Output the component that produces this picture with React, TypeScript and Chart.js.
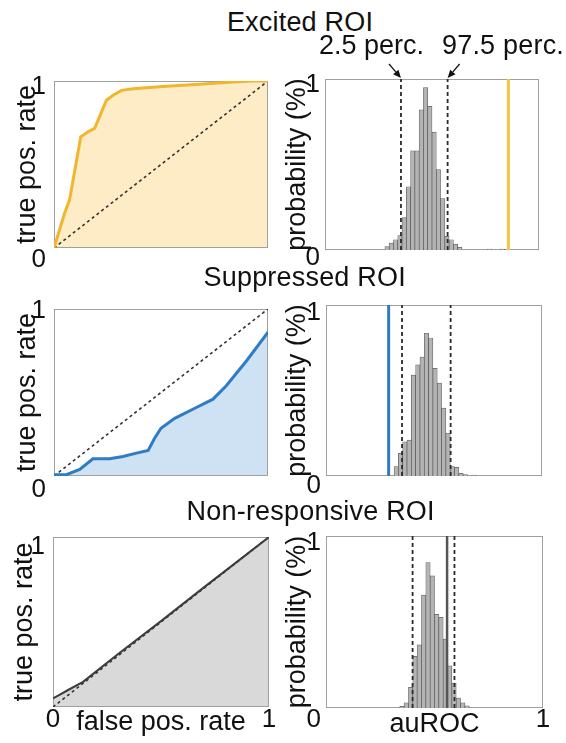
import React, { useEffect, useRef } from "react";
import { Chart, registerables } from "chart.js";

Chart.register(...registerables);

const FAMILY = "'Liberation Sans', Arial, Helvetica, sans-serif";
const INK = "#111111";
const FRAME = "#a0a0a0";

// ---------- ROC curves (false pos. rate -> true pos. rate) ----------
const excitedFpr = [0, 0.05, 0.073, 0.125, 0.159, 0.19, 0.245, 0.276, 0.315, 0.37, 0.525, 0.68, 0.836, 0.93, 1];
const excitedTpr = [0, 0.21, 0.29, 0.666, 0.696, 0.716, 0.885, 0.915, 0.944, 0.954, 0.968, 0.98, 0.994, 1.0, 1];
const suppressedFpr = [0, 0.058, 0.12, 0.182, 0.26, 0.322, 0.385, 0.44, 0.47, 0.5, 0.564, 0.665, 0.743, 0.805, 0.9, 1];
const suppressedTpr = [0.008, 0.008, 0.04, 0.103, 0.103, 0.117, 0.137, 0.153, 0.226, 0.286, 0.345, 0.41, 0.46, 0.54, 0.69, 0.861];
const nonRespFpr = [0, 0.03, 0.07, 0.139, 0.3, 0.5, 0.7, 0.85, 1];
const nonRespTpr = [0.05, 0.072, 0.1, 0.148, 0.31, 0.505, 0.705, 0.852, 1];
const chanceLine = [0, 1];

// ---------- auROC null distributions (bin centres -> probability) ----------
const excitedBins = [0.29, 0.31, 0.33, 0.35, 0.37, 0.39, 0.41, 0.43, 0.45, 0.47, 0.49, 0.51, 0.53, 0.55, 0.57, 0.59, 0.61, 0.63, 0.77, 0.83];
const excitedProb = [0.02, 0.04, 0.06, 0.085, 0.19, 0.37, 0.58, 0.58, 0.82, 0.95, 0.84, 0.69, 0.47, 0.3, 0.08, 0.06, 0.035, 0.015, 0.006, 0.006];
const excitedPerc = [0.355, 0.573];
const excitedAuroc = 0.857;

const suppressedBins = [0.325, 0.345, 0.365, 0.385, 0.405, 0.425, 0.445, 0.465, 0.485, 0.505, 0.525, 0.545, 0.565, 0.585, 0.605, 0.625, 0.645, 0.685];
const suppressedProb = [0.055, 0.133, 0.2, 0.21, 0.59, 0.65, 0.695, 0.835, 0.807, 0.63, 0.543, 0.397, 0.25, 0.055, 0.05, 0.016, 0.008, 0.006];
const suppressedPerc = [0.352, 0.577];
const suppressedAuroc = 0.29;

const nonRespBins = [0.35, 0.37, 0.39, 0.41, 0.43, 0.45, 0.47, 0.49, 0.51, 0.53, 0.55, 0.57, 0.59, 0.61, 0.63, 0.65];
const nonRespProb = [0.01, 0.03, 0.12, 0.3, 0.367, 0.656, 0.846, 0.768, 0.544, 0.527, 0.4, 0.245, 0.145, 0.058, 0.03, 0.013];
const nonRespPerc = [0.399, 0.592];
const nonRespAuroc = 0.558;

// ---------- layout ----------
type Rect = { left: number; top: number; width: number; height: number };
type Plot = { l: number; t: number; r: number; b: number };
type Spec = {
  canvas: Rect;
  plot: Plot;
  yTitle: string;
  yTitlePad: number;
  yTickPad: number;
  y1Offset: number;
  y0Offset: number | null;
  xTickLabels: Record<string, string> | null;
  xTickPad: number;
  xTitle: string | null;
  xTitlePad: number;
};

const framePlugin = {
  id: "frame",
  beforeDatasetsDraw(chart: any) {
    const { ctx, chartArea: a } = chart;
    ctx.save();
    ctx.strokeStyle = FRAME;
    ctx.lineWidth = 1;
    ctx.strokeRect(Math.round(a.left) + 0.5, Math.round(a.top) + 0.5, Math.round(a.right - a.left) - 1, Math.round(a.bottom - a.top) - 1);
    ctx.restore();
  },
};

const arrowPlugin = {
  id: "percArrows",
  afterDraw(chart: any) {
    const { ctx, chartArea } = chart;
    const xs = chart.scales.x;
    ctx.save();
    ctx.strokeStyle = INK;
    ctx.fillStyle = INK;
    ctx.lineWidth = 1.3;
    excitedPerc.forEach((p, i) => {
      const tipX = xs.getPixelForValue(p);
      const tipY = chartArea.top - 1;
      const dir = i === 0 ? -1 : 1;
      const tailX = tipX + dir * 12;
      const tailY = tipY - 14;
      const ang = Math.atan2(tipY - tailY, tipX - tailX);
      const hl = 8;
      const hw = 3.5;
      const bx = tipX - hl * Math.cos(ang);
      const by = tipY - hl * Math.sin(ang);
      ctx.beginPath();
      ctx.moveTo(tailX, tailY);
      ctx.lineTo(bx, by);
      ctx.stroke();
      ctx.beginPath();
      ctx.moveTo(tipX, tipY);
      ctx.lineTo(bx + hw * Math.sin(ang), by - hw * Math.cos(ang));
      ctx.lineTo(bx - hw * Math.sin(ang), by + hw * Math.cos(ang));
      ctx.closePath();
      ctx.fill();
    });
    ctx.restore();
  },
};

function buildOptions(s: Spec): any {
  const yW = s.plot.l - s.canvas.left;
  const xH = s.canvas.top + s.canvas.height - s.plot.b;
  const padTop = s.plot.t - s.canvas.top;
  const padRight = s.canvas.left + s.canvas.width - s.plot.r;
  const lh0 = s.y0Offset == null ? 26 : Math.max(2, 2 * (s.y0Offset - s.y1Offset));
  return {
    animation: false,
    responsive: false,
    maintainAspectRatio: false,
    layout: { padding: { top: padTop, right: padRight, left: 0, bottom: 0 } },
    plugins: {
      legend: { display: false },
      tooltip: { enabled: false },
      filler: { drawTime: "beforeDatasetsDraw" },
    },
    scales: {
      x: {
        type: "linear",
        min: 0,
        max: 1,
        offset: false,
        grid: { display: false, offset: false },
        border: { display: false },
        ticks: {
          display: !!s.xTickLabels,
          stepSize: 1,
          padding: s.xTickPad,
          color: INK,
          maxRotation: 0,
          autoSkip: false,
          font: { family: FAMILY, size: 26, lineHeight: 1 },
          callback: (v: number) => (s.xTickLabels && s.xTickLabels[String(v)]) || null,
        },
        title: {
          display: !!s.xTitle,
          text: s.xTitle || "",
          color: INK,
          font: { family: FAMILY, size: 27, lineHeight: 1 },
          padding: { top: 0, bottom: s.xTitlePad },
        },
        afterFit: (sc: any) => {
          sc.height = xH;
        },
      },
      y: {
        type: "linear",
        min: 0,
        max: 1,
        grid: { display: false },
        border: { display: false },
        ticks: {
          stepSize: 1,
          padding: s.yTickPad,
          labelOffset: s.y1Offset,
          color: INK,
          autoSkip: false,
          font: { family: FAMILY, size: 26, lineHeight: `${lh0}px` },
          callback: (v: number) => (v === 1 ? "1" : s.y0Offset == null ? null : ["", "0"]),
        },
        title: {
          display: true,
          text: s.yTitle,
          color: INK,
          font: { family: FAMILY, size: 27, lineHeight: 1 },
          padding: { top: s.yTitlePad, bottom: 0 },
        },
        afterFit: (sc: any) => {
          sc.width = yW;
        },
      },
    },
  };
}

function rocConfig(s: Spec, fpr: number[], tpr: number[], line: string, fill: string, width: number): any {
  return {
    type: "line",
    data: {
      datasets: [
        {
          data: fpr.map((x, i) => ({ x, y: tpr[i] })),
          borderColor: line,
          backgroundColor: fill,
          fill: "origin",
          borderWidth: width,
          pointRadius: 0,
          tension: 0,
          order: 0,
        },
        {
          data: chanceLine.map((v) => ({ x: v, y: v })),
          borderColor: "#333333",
          borderWidth: 1.6,
          borderDash: [3, 3],
          pointRadius: 0,
          fill: false,
          order: 1,
        },
      ],
    },
    options: buildOptions(s),
    plugins: [framePlugin],
  };
}

function histConfig(
  s: Spec,
  bins: number[],
  prob: number[],
  perc: number[],
  auroc: number,
  aurocColor: string,
  aurocWidth: number,
  extra: any[] = []
): any {
  const vline = (v: number) => [
    { x: v, y: 0 },
    { x: v, y: 1 },
  ];
  return {
    type: "bar",
    data: {
      datasets: [
        {
          type: "bar",
          data: bins.map((x, i) => ({ x, y: prob[i] })),
          backgroundColor: "#b4b4b4",
          borderColor: "rgba(70,70,70,0.85)",
          borderWidth: 0.7,
          barPercentage: 1,
          categoryPercentage: 1,
          order: 3,
        },
        ...perc.map((p) => ({
          type: "line",
          data: vline(p),
          borderColor: "#2a2a2a",
          borderWidth: 1.8,
          borderDash: [4, 3],
          pointRadius: 0,
          fill: false,
          order: 1,
        })),
        {
          type: "line",
          data: vline(auroc),
          borderColor: aurocColor,
          borderWidth: aurocWidth,
          pointRadius: 0,
          fill: false,
          order: 0,
        },
      ],
    },
    options: buildOptions(s),
    plugins: [framePlugin, ...extra],
  };
}

const leftTitle = "true pos. rate";
const rightTitle = "probability (%)";

const specs: Record<string, Spec> = {
  roc1: {
    canvas: { left: 0, top: 55, width: 283, height: 215 },
    plot: { l: 54, t: 81, r: 268, b: 248 },
    yTitle: leftTitle, yTitlePad: 14, yTickPad: 0, y1Offset: 6, y0Offset: 12,
    xTickLabels: null, xTickPad: 0, xTitle: null, xTitlePad: 0,
  },
  hist1: {
    canvas: { left: 283, top: 55, width: 283, height: 215 },
    plot: { l: 325, t: 79, r: 539, b: 250 },
    yTitle: rightTitle, yTitlePad: 1.5, yTickPad: -3, y1Offset: 6, y0Offset: 7.5,
    xTickLabels: null, xTickPad: 0, xTitle: null, xTitlePad: 0,
  },
  roc2: {
    canvas: { left: 0, top: 285, width: 283, height: 215 },
    plot: { l: 54, t: 309, r: 268, b: 477 },
    yTitle: leftTitle, yTitlePad: 14, yTickPad: 0, y1Offset: 2, y0Offset: 14,
    xTickLabels: null, xTickPad: 0, xTitle: null, xTitlePad: 0,
  },
  hist2: {
    canvas: { left: 283, top: 285, width: 283, height: 215 },
    plot: { l: 326, t: 305, r: 542, b: 476 },
    yTitle: rightTitle, yTitlePad: 1.5, yTickPad: -3, y1Offset: 7.5, y0Offset: 9.5,
    xTickLabels: null, xTickPad: 0, xTitle: null, xTitlePad: 0,
  },
  roc3: {
    canvas: { left: 0, top: 515, width: 283, height: 228 },
    plot: { l: 53, t: 537, r: 269, b: 707 },
    yTitle: leftTitle, yTitlePad: 11.5, yTickPad: 0, y1Offset: 10, y0Offset: null,
    xTickLabels: { "0": "0", "1": "1" }, xTickPad: -8, xTitle: "false pos. rate", xTitlePad: 7,
  },
  hist3: {
    canvas: { left: 283, top: 515, width: 283, height: 228 },
    plot: { l: 326, t: 536, r: 543, b: 708 },
    yTitle: rightTitle, yTitlePad: 1.5, yTickPad: -3, y1Offset: 7, y0Offset: 12,
    xTickLabels: { "1": "1" }, xTickPad: -9, xTitle: "auROC", xTitlePad: 4.5,
  },
};

function ChartCanvas({ rect, make }: { rect: Rect; make: () => any }) {
  const ref = useRef<HTMLCanvasElement | null>(null);
  useEffect(() => {
    const chart = new Chart(ref.current as HTMLCanvasElement, make());
    return () => chart.destroy();
  }, []);
  return (
    <canvas
      ref={ref}
      width={rect.width}
      height={rect.height}
      style={{ position: "absolute", left: rect.left, top: rect.top, width: rect.width, height: rect.height }}
    />
  );
}

function Label({ text, cx, top, size = 27, spacing = 0.2 }: { text: string; cx: number; top: number; size?: number; spacing?: number }) {
  return (
    <div
      style={{
        position: "absolute",
        left: cx - 200,
        top,
        width: 400,
        textAlign: "center",
        fontFamily: FAMILY,
        fontSize: size,
        lineHeight: `${size}px`,
        letterSpacing: spacing,
        color: INK,
        whiteSpace: "nowrap",
        zIndex: 2,
        pointerEvents: "none",
      }}
    >
      {text}
    </div>
  );
}

export default function App() {
  return (
    <div style={{ position: "absolute", left: 0, top: 0, width: 566, height: 743, overflow: "hidden", background: "#ffffff" }}>
      <ChartCanvas rect={specs.roc1.canvas} make={() => rocConfig(specs.roc1, excitedFpr, excitedTpr, "#F2B52E", "#FDECC6", 3)} />
      <ChartCanvas
        rect={specs.hist1.canvas}
        make={() => histConfig(specs.hist1, excitedBins, excitedProb, excitedPerc, excitedAuroc, "#F5C542", 3, [arrowPlugin])}
      />
      <ChartCanvas rect={specs.roc2.canvas} make={() => rocConfig(specs.roc2, suppressedFpr, suppressedTpr, "#2E7BC6", "#CFE2F3", 3)} />
      <ChartCanvas
        rect={specs.hist2.canvas}
        make={() => histConfig(specs.hist2, suppressedBins, suppressedProb, suppressedPerc, suppressedAuroc, "#2E7BC6", 3)}
      />
      <ChartCanvas rect={specs.roc3.canvas} make={() => rocConfig(specs.roc3, nonRespFpr, nonRespTpr, "#3c3c3c", "#D9D9D9", 2)} />
      <ChartCanvas
        rect={specs.hist3.canvas}
        make={() => histConfig(specs.hist3, nonRespBins, nonRespProb, nonRespPerc, nonRespAuroc, "#555555", 2.5)}
      />
      <Label text="Excited ROI" cx={300} top={9} />
      <Label text="2.5 perc." cx={371.5} top={32} spacing={0} />
      <Label text="97.5 perc." cx={503} top={32} spacing={0.2} />
      <Label text="Suppressed ROI" cx={304.7} top={264} />
      <Label text="Non-responsive ROI" cx={310.7} top={498} />
    </div>
  );
}
